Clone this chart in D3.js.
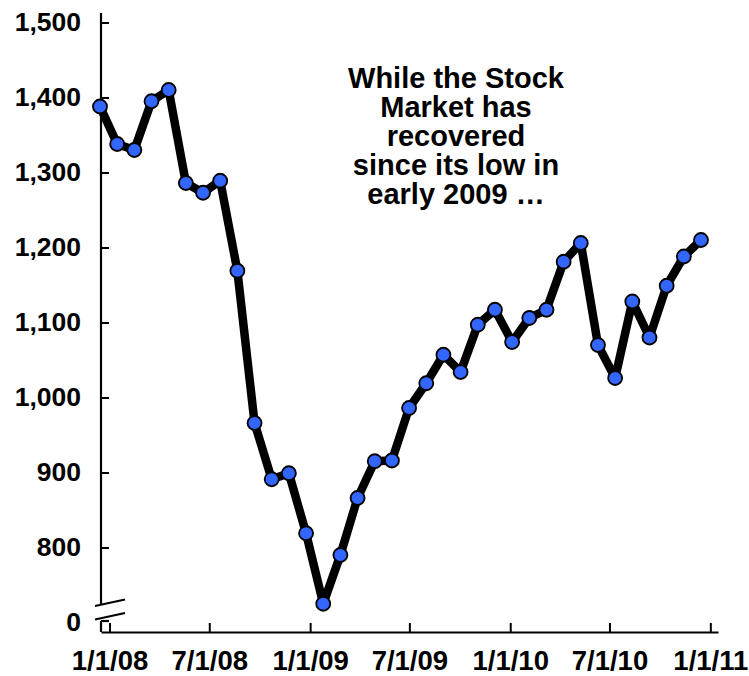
<!DOCTYPE html>
<html>
<head>
<meta charset="utf-8">
<script src="https://cdn.jsdelivr.net/npm/d3@7"></script>
<style>
  body { margin: 0; background: #fff; }
  svg { display: block; font-family: "Liberation Sans", Arial, sans-serif; font-weight: bold; }
</style>
</head>
<body>
<svg id="chart"></svg>
<script>
// monthly index values, Jan 2008 - Dec 2010
const months = d3.timeMonths(new Date(2008, 0, 1), new Date(2011, 0, 1));
const values = [
  1388, 1338, 1330, 1395, 1410, 1286, 1273, 1289, 1169, 966, 891, 899,
  819, 725, 790, 866, 915, 916, 986, 1019, 1057, 1034, 1097, 1117,
  1074, 1106, 1117, 1181, 1206, 1070, 1026, 1128, 1080, 1149, 1188, 1210
];
const yTicks = [800, 900, 1000, 1100, 1200, 1300, 1400, 1500];
const noteLines = ["While the Stock", "Market has", "recovered", "since its low in", "early 2009 \u2026"];

const width = 749;
const height = 676;
const axisX = 101;   // y axis position
const axisY = 632;   // x axis position
const zeroY = 621;   // where the broken "0" tick sits

const svg = d3.select("#chart")
    .attr("width", width)
    .attr("height", height)
    .attr("viewBox", [0, 0, width, height]);

// scales
const y = d3.scaleLinear().domain([800, 1500]).range([547.5, 22.5]);
const xPoint = d3.scalePoint().domain(d3.range(months.length)).range([100, 701]);
const xTime = d3.scaleTime()
    .domain([new Date(2007, 11, 16, 12), new Date(2011, 0, 15)])
    .range([axisX, 718]);

// x axis (ticks pointing up)
const xAxis = d3.axisBottom(xTime)
    .ticks(d3.timeMonth.every(6))
    .tickFormat(d3.timeFormat("%-m/%-d/%y"))
    .tickSizeInner(-9)
    .tickSizeOuter(0)
    .tickPadding(18);

svg.append("g")
    .attr("transform", `translate(0,${axisY})`)
    .call(xAxis)
    .call(g => g.select(".domain").attr("stroke-width", 2.2))
    .call(g => g.selectAll(".tick line").attr("stroke-width", 2))
    .call(g => g.selectAll(".tick text")
        .attr("font-size", 27.5)
        .attr("font-family", "'Liberation Sans', Arial, sans-serif")
        .attr("font-weight", "bold")
        .attr("fill", "#000"));

// y axis (ticks pointing right), domain drawn by hand because of the break
const yAxis = d3.axisLeft(y)
    .tickValues(yTicks)
    .tickFormat(d3.format(","))
    .tickSizeInner(-8)
    .tickSizeOuter(0)
    .tickPadding(20);

svg.append("g")
    .attr("transform", `translate(${axisX},0)`)
    .call(yAxis)
    .call(g => g.select(".domain").remove())
    .call(g => g.selectAll(".tick line").attr("stroke-width", 2))
    .call(g => g.selectAll(".tick text")
        .attr("font-size", 26.5)
        .attr("font-family", "'Liberation Sans', Arial, sans-serif")
        .attr("font-weight", "bold")
        .attr("fill", "#000"));

const axisG = svg.append("g").attr("stroke", "#000").attr("stroke-width", 2.2).attr("fill", "none");
axisG.append("line").attr("x1", axisX).attr("x2", axisX).attr("y1", 13).attr("y2", 605);
axisG.append("line").attr("x1", axisX).attr("x2", axisX).attr("y1", zeroY).attr("y2", axisY);
axisG.append("line").attr("x1", axisX).attr("x2", axisX + 8).attr("y1", zeroY).attr("y2", zeroY);
// break marks
axisG.append("line").attr("x1", 95).attr("y1", 606).attr("x2", 125).attr("y2", 599.5);
axisG.append("line").attr("x1", 95).attr("y1", 619.5).attr("x2", 125).attr("y2", 613);

svg.append("text")
    .attr("x", axisX - 20)
    .attr("y", zeroY)
    .attr("dy", "0.36em")
    .attr("text-anchor", "end")
    .attr("font-size", 26.5)
    .text("0");

// line + markers
const line = d3.line()
    .x((d, i) => xPoint(i))
    .y(d => y(d));

svg.append("path")
    .datum(values)
    .attr("fill", "none")
    .attr("stroke", "#000")
    .attr("stroke-width", 8.5)
    .attr("stroke-linejoin", "round")
    .attr("stroke-linecap", "round")
    .attr("d", line);

svg.append("g")
  .selectAll("circle")
  .data(values)
  .join("circle")
    .attr("cx", (d, i) => xPoint(i))
    .attr("cy", d => y(d))
    .attr("r", 7)
    .attr("fill", "#3366ff")
    .attr("stroke", "#000")
    .attr("stroke-width", 1.8);

// annotation
svg.append("text")
    .attr("text-anchor", "middle")
    .attr("font-size", 29)
  .selectAll("tspan")
  .data(noteLines)
  .join("tspan")
    .attr("x", 456)
    .attr("y", (d, i) => 88 + i * 29)
    .text(d => d);
</script>
</body>
</html>
